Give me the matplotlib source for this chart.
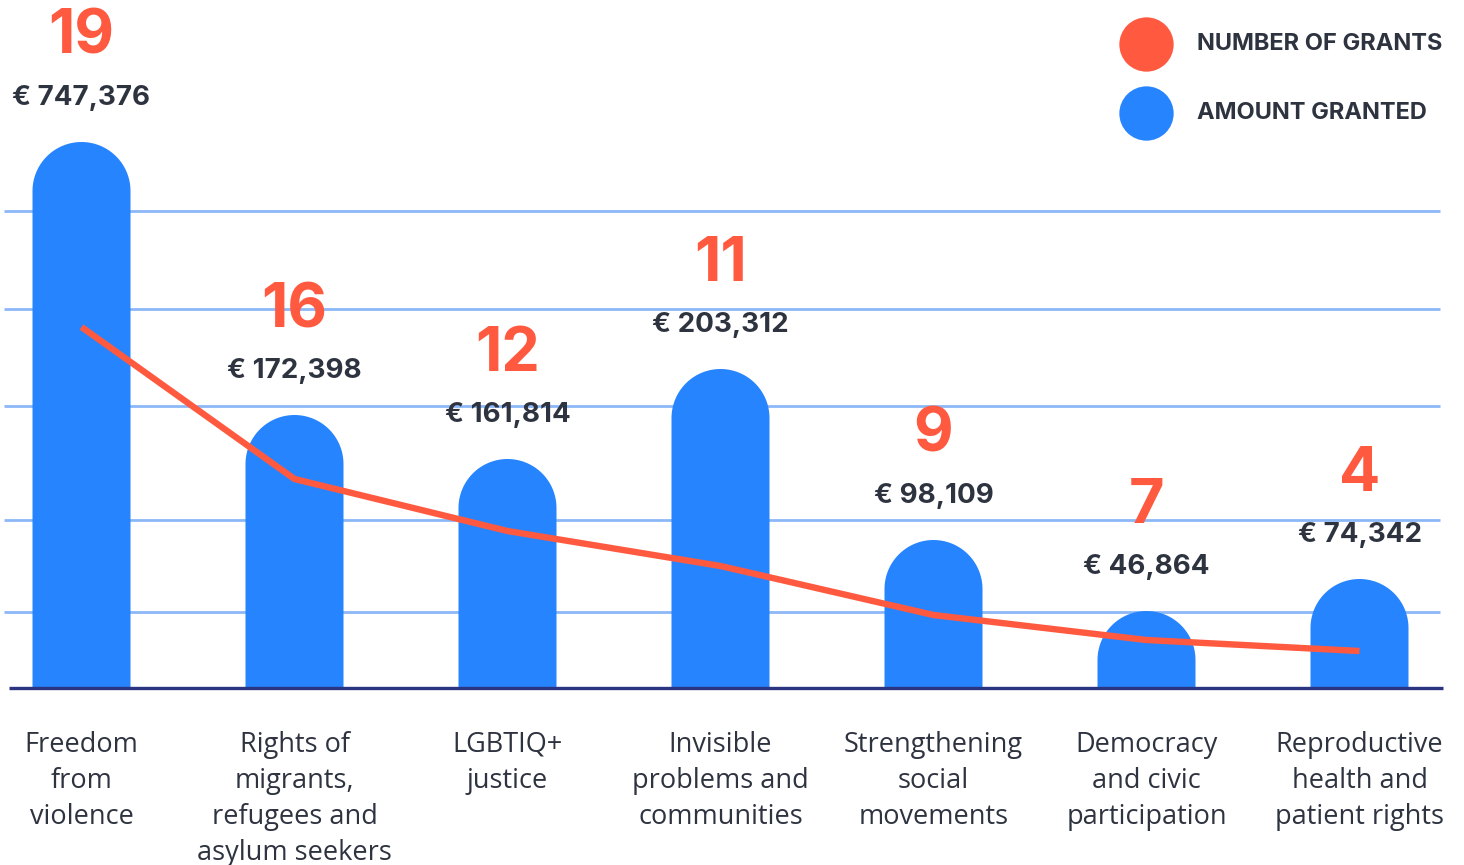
import numpy as np
import matplotlib
matplotlib.use("Agg")
import matplotlib.pyplot as plt

# ---- data ----
categories = [
    "Freedom\nfrom\nviolence",
    "Rights of\nmigrants,\nrefugees and\nasylum seekers",
    "LGBTIQ+\njustice",
    "Invisible\nproblems and\ncommunities",
    "Strengthening\nsocial\nmovements",
    "Democracy\nand civic\nparticipation",
    "Reproductive\nhealth and\npatient rights",
]
grants = [19, 16, 12, 11, 9, 7, 4]
amounts = [747376, 172398, 161814, 203312, 98109, 46864, 74342]
# displayed (not-to-scale) bar heights and line levels
bar_heights = [546, 273, 229, 319, 148, 77, 109]
line_levels = [361, 209, 157, 122, 73, 48, 37]
grid_levels = [477, 379, 282, 168, 76]
legend_labels = ["NUMBER OF GRANTS", "AMOUNT GRANTED"]

BLUE = "#2684ff"
RED = "#ff5a40"
DARK = "#2e3340"
GRID = "#8cb8f7"
BASE = "#2b3480"

W, H = 1464, 865
fig = plt.figure(figsize=(W / 100, H / 100), dpi=100)
ax = fig.add_axes([0, 0, 1, 1])
step = 213.0  # px per category
x0 = 81.5
ax.set_xlim(-x0 / step, (W - x0) / step)
ax.set_ylim(-(H - 688), 688)
ax.axis("off")

xs = np.arange(len(categories))

def px2x(p):
    return (p - x0) / step

# grid lines
for g in grid_levels:
    ax.plot([px2x(4), px2x(1440)], [g, g], color=GRID, lw=2.0, zorder=1,
            solid_capstyle="butt")
# baseline
ax.plot([px2x(9), px2x(1443)], [0, 0], color=BASE, lw=2.4, zorder=4,
        solid_capstyle="butt")

# rounded-top bars
bw = 98 / step
rx = bw / 2
ry = 49.0
th = np.linspace(0, np.pi, 60)
for x, h in zip(xs, bar_heights):
    cx = x
    arc_x = cx + rx * np.cos(th)
    arc_y = (h - ry) + ry * np.sin(th)
    px = np.concatenate([[cx + rx], arc_x, [cx - rx]])
    py = np.concatenate([[0], arc_y, [0]])
    ax.fill(px, py, color=BLUE, zorder=2, lw=0)

# line of number of grants
ax.plot(xs, line_levels, color=RED, lw=4.6, zorder=3,
        solid_joinstyle="round", solid_capstyle="butt")

# value labels
for x, h, n, a in zip(xs, bar_heights, grants, amounts):
    ax.annotate(f"€ {a:,}", (x, h), xytext=(0, 44 * 0.72), textcoords="offset points",
                ha="center", va="center", fontsize=20, fontweight="bold",
                color=DARK, family="Inter", zorder=5)
    ax.annotate(f"{n}", (x, h), xytext=(0, 104 * 0.72), textcoords="offset points",
                ha="center", va="center", fontsize=44, fontweight="bold",
                color=RED, family="Inter", zorder=5)

# category labels
for x, c in zip(xs, categories):
    ax.text(x, 688 - 731, c, ha="center", va="top", fontsize=19.5,
            color=DARK, family="Open Sans", linespacing=1.38)

# legend
for i, (lab, col) in enumerate(zip(legend_labels, [RED, BLUE])):
    yc = 1 - (44 + 69 * i) / H
    ax.scatter([1146 / W], [yc], s=1530, color=col, transform=ax.transAxes,
               zorder=5, lw=0)
    ax.text(1197 / W, yc, lab, transform=ax.transAxes, ha="left", va="center",
            fontsize=17, fontweight="bold", color=DARK, family="Inter")

fig.savefig("out.png", dpi=100)
